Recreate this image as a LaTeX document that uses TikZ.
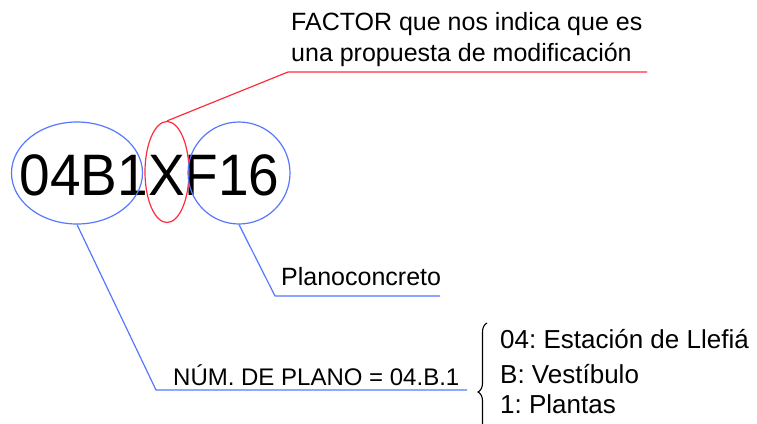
\documentclass[tikz,border=0pt]{standalone}
\usepackage{fontspec}
\setmainfont{Liberation Sans}
\newfontfamily\bigfont[FakeStretch=0.94]{Liberation Sans}
\usetikzlibrary{shapes.geometric,decorations.pathreplacing}
\definecolor{lblue}{RGB}{85,120,255}
\definecolor{lred}{RGB}{255,45,60}
\frenchspacing
\begin{document}
\begin{tikzpicture}[x=1pt, y=-1pt, font=\fontsize{25}{30}\selectfont,
    ell/.style={draw, ellipse, inner sep=0pt, line width=1.2pt},
    lbl/.style={anchor=base west, inner sep=0pt},
    item/.style={lbl, font=\fontsize{26}{30}\selectfont},
    lead/.style={line width=1.2pt}]
    \useasboundingbox (0,0) rectangle (757,423);
    \clip (0,0) rectangle (757,423);
    \node[anchor=base, inner sep=0pt, font=\bigfont\fontsize{58.5}{60}\selectfont] (code) at (149.6,195) {04B1XF16};
    \node[ell, lblue, minimum width=131pt, minimum height=102pt] (num) at (77,173) {};
    \node[ell, lred, minimum width=44pt, minimum height=101pt] (x) at (167,172) {};
    \node[ell, lblue, minimum width=102pt, minimum height=102pt] (pc) at (239,173) {};
    \node[lbl] (fac1) at (291,30) {FACTOR que nos indica que es};
    \node[lbl] (fac2) at (291,61) {una propuesta de modificación};
    \node[lbl] (plano) at (281,285) {Planoconcreto};
    \node[lbl, font=\fontsize{24}{30}\selectfont] (nump) at (173,385) {NÚM. DE PLANO = 04.B.1};
    \node[item] (est) at (500,348) {04: Estación de Llefiá};
    \node[item] (ves) at (500,383) {B: Vestíbulo};
    \node[item] (pla) at (500,413) {1: Plantas};
    \coordinate (fk) at (288,72);
    \coordinate (fe) at (647,72);
    \coordinate (pk) at (275,296);
    \coordinate (pe) at (440,296);
    \coordinate (nk) at (156,390);
    \coordinate (ne) at (467,390);
    \coordinate (bb) at (487,461);
    \coordinate (bt) at (487,323);
    \draw[lead, lred] (x.north) -- (fk) -- (fe);
    \draw[lead, lblue] (pc.south) -- (pk) -- (pe);
    \draw[lead, lblue] (num.south) -- (nk) -- (ne);
    \draw[line width=1.1pt, decorate, decoration={brace, amplitude=9pt}] (bb) -- (bt);
\end{tikzpicture}
\end{document}
